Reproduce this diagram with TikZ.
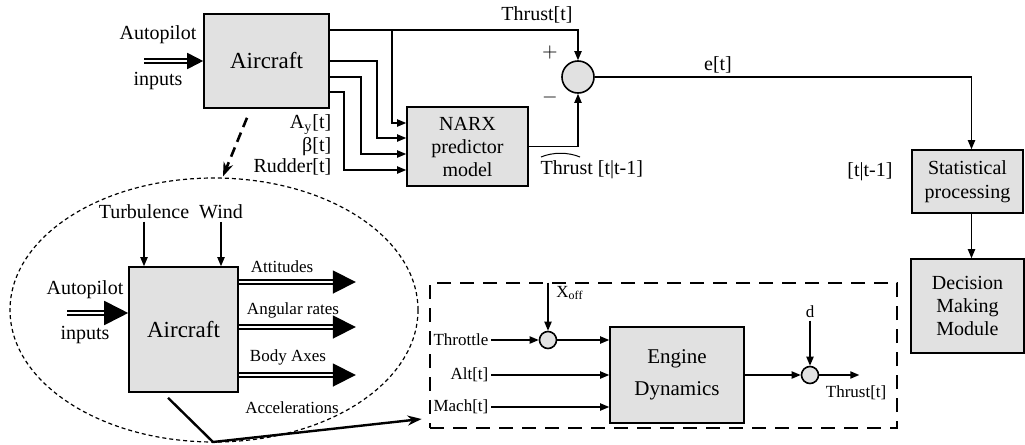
\documentclass[tikz,border=0pt]{standalone}
\usepackage{fontspec}
\setmainfont{Liberation Serif}
\usetikzlibrary{arrows.meta, calc, shapes.geometric}
\definecolor{boxgray}{RGB}{225,225,225}

\tikzset{
  block/.style={draw, fill=boxgray, line width=0.8pt, align=center, inner sep=0pt},
  junc/.style={circle, draw, fill=boxgray, line width=0.8pt, inner sep=0pt},
  lbl/.style={font=\fontsize{10}{11.5}\selectfont, inner sep=1pt},
  small/.style={font=\fontsize{8.5}{10}\selectfont, inner sep=1pt},
  dbl/.style={double, double distance=1.3pt, line width=0.9pt, -{Triangle[length=#1, width=#1]}},
  dbl/.default=8pt,
}

\begin{document}
\begin{tikzpicture}[x=0.5pt, y=-0.5pt, line width=0.7pt, >={Triangle[length=4.5pt, width=3.6pt]}]
\useasboundingbox (0,0) rectangle (1025,445);

        % Top level blocks
        \node[block, minimum width=62.5pt, minimum height=47pt, font=\fontsize{11.5}{13}\selectfont] (air) at (266.5,61) {Aircraft};
        \node[block, minimum width=60.5pt, minimum height=39.5pt, font=\fontsize{10}{11.5}\selectfont] (narx) at (467.5,146.5) {NARX\\predictor\\model};
        \node[junc, minimum size=16pt] (sum) at (578,77) {};
        \node[block, minimum width=55.5pt, minimum height=31.5pt, font=\fontsize{10}{12}\selectfont] (stat) at (967.5,181.5) {Statistical\\processing};
        \node[block, minimum width=56.5pt, minimum height=47pt, font=\fontsize{10}{11.3}\selectfont] (dec) at (967.5,306) {Decision\\Making\\Module};

        % Top level labels
        \node[lbl] (ap1) at (158,35) {Autopilot};
        \node[lbl] (in1) at (158,81) {inputs};
        \coordinate (ap1in) at (144,61);
        \node[lbl] (thr1) at (537,15) {Thrust[t]};
        \node[lbl] (plus) at (550,52) {$+$};
        \node[lbl] (minus) at (550,97) {$-$};
        \node[lbl] (err) at (718,65) {e[t]};
        \node[lbl, anchor=west] (thrhat) at (538,170) {Thrust [t|t-1]};
        \draw[line width=0.5pt] ($(thrhat.west)+(3,-13)$) .. controls +(12,-5) and +(-12,-5) .. ($(thrhat.west)+(42,-13)$);
        \node[lbl] (pred) at (870,172) {[t|t-1]};
        \node[lbl, anchor=east] (ay) at (334,125) {A\(_{\mathrm{y}}\)[t]};
        \node[lbl, anchor=east] (beta) at (334,147) {β[t]};
        \node[lbl, anchor=east] (rud) at (334,167) {Rudder[t]};
        \coordinate (br) at (392,30);

        % Top level connections
        \draw[dbl] (ap1in) -- (air.west);
        \draw[->] ($(air.east)+(0,-31)$) -| (sum.north);
        \draw[->] (br) |- ($(narx.west)+(0,-23.5)$);
        \draw[->] (air.east) -- ++(47,0) |- ($(narx.west)+(0,-8.5)$);
        \draw[->] ($(air.east)+(0,16)$) -- ++(31,0) |- ($(narx.west)+(0,7.5)$);
        \draw[->] ($(air.east)+(0,31)$) -- ++(14,0) |- ($(narx.west)+(0,23.5)$);
        \draw[->] (narx.east) -| (sum.south);
        \draw[->] (sum.east) -| ($(stat.north)+(4,0)$);
        \draw[->] ($(stat.south)+(4,0)$) -- ($(dec.north)+(4,0)$);

        % Zoom on the aircraft
        \node[ellipse, draw, line width=0.6pt, dash pattern=on 2pt off 1.5pt, minimum width=204pt, minimum height=132pt] (ell) at (214,310) {};
        \draw[line width=1.3pt, dash pattern=on 5pt off 3pt, -{Stealth[length=7pt, width=5pt]}] ($(air.south)+(-19.5,9)$) -- ($(ell.north)+(9,-1)$);

        \node[block, minimum width=54.5pt, minimum height=62.5pt, font=\fontsize{11.5}{13}\selectfont] (air2) at (183.5,329.5) {Aircraft};
        \node[lbl] (turb) at (144,212) {Turbulence};
        \node[lbl] (wind) at (221,212) {Wind};
        \node[lbl] (ap2) at (85,290) {Autopilot};
        \node[lbl] (in2) at (85,335) {inputs};
        \coordinate (ap2in) at (67,313);
        \node[small] (att) at (282,267) {Attitudes};
        \node[small] (ang) at (293,310) {Angular rates};
        \node[small] (body) at (288,357) {Body Axes};
        \node[small] (acc) at (292,408) {Accelerations};

        \draw[->] (turb.south) -- (turb.south |- air2.north);
        \draw[->] (wind.south) -- (wind.south |- air2.north);
        \draw[dbl=12pt] (ap2in) -- (ap2in -| air2.west);
        \draw[dbl=11.5pt] ($(air2.east)+(0,-47.5)$) -- ++(117,0);
        \draw[dbl=11.5pt] ($(air2.east)+(0,-2.5)$) -- ++(117,0);
        \draw[dbl=11.5pt] ($(air2.east)+(0,45.5)$) -- ++(117,0);

        % Engine model
        \node[draw, line width=1.4pt, dash pattern=on 7pt off 4.5pt, minimum width=233.5pt, minimum height=72.5pt] (frame) at (663.5,355.5) {};
        \coordinate (bend) at (213,442);
        \draw[line width=1.2pt, -{Stealth[length=7pt, width=5pt]}] ($(air2.south)+(-15.5,5)$) -- (bend) -- ($(frame.west)+(-7,63.5)$);

        \node[block, minimum width=67pt, minimum height=48pt, font=\fontsize{10.5}{16}\selectfont] (eng) at (677,375) {Engine\\Dynamics};
        \node[small, anchor=east] (thr) at (491,340) {Throttle};
        \node[small, anchor=east] (alt) at (491,375) {Alt[t]};
        \node[small, anchor=east] (mach) at (491,407) {Mach[t]};
        \node[junc, minimum size=8.5pt] (sm1) at (548,340) {};
        \node[small] (xoff) at (570,293) {X\(_{\mathrm{off}}\)};
        \node[junc, minimum size=8.5pt] (sm2) at (810,375) {};
        \node[small] (dist) at (810,312) {d};
        \node[small, anchor=east] (throut) at (889,393) {Thrust[t]};

        \draw[->] (thr.east) -- (sm1.west);
        \draw[->] ($(sm1.north)+(0,-48)$) -- (sm1.north);
        \draw[->] (sm1.east) -- (sm1 -| eng.west);
        \draw[->] (alt.east) -- (alt -| eng.west);
        \draw[->] (mach.east) -- (mach -| eng.west);
        \draw[->] (eng.east) -- (sm2.west);
        \draw[->] (dist.south) -- (sm2.north);
        \draw[->] (sm2.east) -- ++(40,0);
\end{tikzpicture}
\end{document}
